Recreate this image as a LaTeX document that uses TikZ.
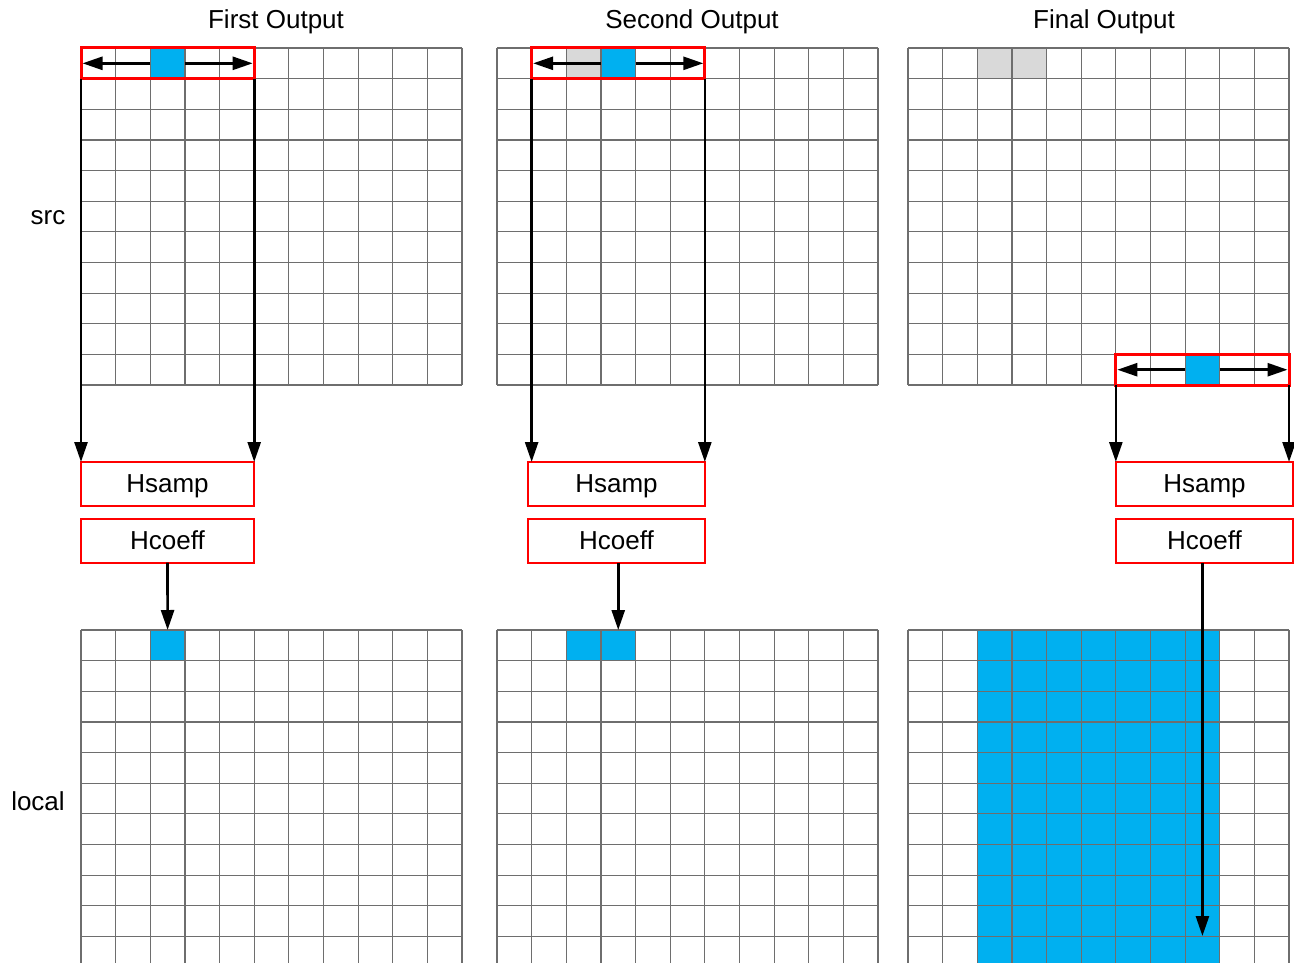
\documentclass[tikz,border=0pt]{standalone}
\usepackage{fontspec}
\setmainfont{Liberation Sans}
\usetikzlibrary{positioning, arrows.meta, calc}
\definecolor{cellBlue}{HTML}{00B0F0}
\definecolor{cellGrey}{HTML}{D9D9D9}
\definecolor{gridGrey}{HTML}{6E6E6E}
\definecolor{winRed}{HTML}{FF0000}

\begin{document}
\begin{tikzpicture}[x=1pt, y=-1pt,
  gridline/.style={draw=gridGrey, line width=1.2pt},
  cell/.style={minimum width=34.64pt, minimum height=30.64pt, inner sep=0pt, outer sep=0pt},
  window/.style={draw=winRed, line width=3pt, minimum width=173.2pt,
                 minimum height=30.64pt, inner sep=0pt, outer sep=0pt},
  filterbox/.style={draw=winRed, line width=2pt, minimum height=44pt, text depth=0pt,
                    inner sep=0pt, outer sep=0pt, font=\fontsize{26}{30}\selectfont},
  heading/.style={font=\fontsize{26}{30}\selectfont},
  arr/.style={-{Triangle[length=20pt, width=13pt]}, line width=2.6pt},
]
  \clip (0,0) rectangle (1294,963);

  % filled cells
  \node[cell, fill=cellBlue] (srcA) at (167.6,63.32) {};
  \node[cell, fill=cellGrey] at (583.6,63.32) {};
  \node[cell, fill=cellBlue] (srcB) at (618.24,63.32) {};
  \node[cell, fill=cellGrey] at (994.6,63.32) {};
  \node[cell, fill=cellGrey] at (1029.24,63.32) {};
  \node[cell, fill=cellBlue] (srcC) at (1202.44,369.72) {};
  \node[cell, fill=cellBlue] (dstA) at (167.6,645.32) {};
  \node[cell, fill=cellBlue] at (583.6,645.32) {};
  \node[cell, fill=cellBlue] (dstB) at (618.24,645.32) {};
  \fill[cellBlue] (977.28,630) rectangle (1220.48,967.04);

  % grids
  \foreach \gx/\gy in {81/48, 497/48, 908/48, 81/630, 497/630, 908/630} {
    \foreach \i in {0,...,11} {
      \draw[gridline] ({\gx+\i*34.64},\gy) -- ({\gx+\i*34.64},{\gy+11*30.64});
      \draw[gridline] (\gx,{\gy+\i*30.64}) -- ({\gx+11*34.64},{\gy+\i*30.64});
    }
  }

  % sampling windows
  \node[window] (winA) at (167.6,63.32) {};
  \node[window] (winB) at (618.24,63.32) {};
  \node[window] (winC) at (1202.44,369.72) {};
  \foreach \s/\w in {srcA/winA, srcB/winB, srcC/winC} {
    \draw[arr, shorten >=1.5pt] (\s.west) -- (\w.west);
    \draw[arr, shorten >=1.5pt] (\s.east) -- (\w.east);
  }

  % filter boxes
  \node[filterbox, minimum width=173pt] (hsampA) at (167.5,484) {Hsamp};
  \node[filterbox, minimum width=173pt] (hcoeffA) at (167.5,540.5) {Hcoeff};
  \node[filterbox, minimum width=177pt] (hsampB) at (616.5,484) {Hsamp};
  \node[filterbox, minimum width=177pt] (hcoeffB) at (616.5,540.5) {Hcoeff};
  \node[filterbox, minimum width=177pt] (hsampC) at (1204.5,484) {Hsamp};
  \node[filterbox, minimum width=177pt] (hcoeffC) at (1204.5,540.5) {Hcoeff};

  % window to filter
  \foreach \w/\h in {winA/hsampA, winB/hsampB, winC/hsampC} {
    \draw[arr] (\w.south west) -- (\w.south west |- \h.north);
    \draw[arr] (\w.south east) -- (\w.south east |- \h.north);
  }

  % filter to local
  \coordinate (endC) at (1202.44,936);
  \draw[arr] (hcoeffA.south) -- (dstA.north);
  \draw[arr] (hcoeffB.south -| dstB.north) -- (dstB.north);
  \draw[arr] (hcoeffC.south -| endC) -- (endC);

  % labels
  \node[heading] (titleA) at (276,22) {First Output};
  \node[heading] (titleB) at (692,22) {Second Output};
  \node[heading] (titleC) at (1104,22) {Final Output};
  \node[heading] (srcLabel) at (48,218) {src};
  \node[heading] (localLabel) at (38,801) {local};
\end{tikzpicture}
\end{document}
